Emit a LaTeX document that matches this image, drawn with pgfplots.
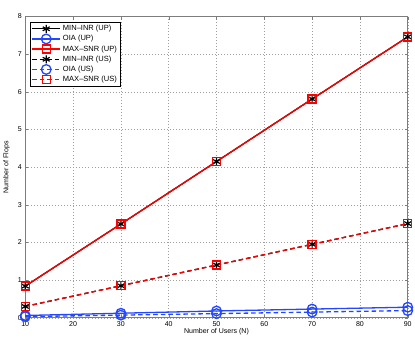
\documentclass[border=0pt]{standalone}
\usepackage{pgfplots}
\pgfplotsset{compat=1.18}
\usepackage{fontspec}
\setmainfont{Liberation Sans}
\definecolor{mblue}{RGB}{35,70,255}
\definecolor{axgray}{RGB}{125,125,125}

\begin{document}
\begin{tikzpicture}
\begin{axis}[
    scale only axis,
    width=381pt,
    height=300pt,
    xmin=10, xmax=90,
    ymin=0, ymax=8000000,
    xtick={10,20,...,90},
    xticklabels={10,20,30,40,50,60,70,80,90},
    ytick={0,1000000,2000000,3000000,4000000,5000000,6000000,7000000,8000000},
    yticklabels={0,1,2,3,4,5,6,7,8},
    scaled y ticks=false,
    tick label style={font=\fontsize{7}{8}\selectfont},
    label style={font=\fontsize{7}{8}\selectfont},
    xlabel={Number of Users (N)},
    ylabel={Number of Flops},
    xlabel style={yshift=5pt},
    ylabel style={yshift=1pt},
    grid=major,
    major grid style={dash pattern=on 0.6pt off 2.4pt, gray!75, line width=0.4pt},
    axis line style={axgray, line width=0.6pt},
    tick style={axgray},
    tick align=inside,
    major tick length=3pt,
    legend style={at={(0.013,0.982)},anchor=north west, font=\fontsize{7.5}{8.5}\selectfont,
        draw=black, line width=0.6pt, inner sep=1pt, row sep=-0.8pt},
    legend cell align=left,
    legend image code/.code={\draw[mark repeat=2,mark phase=2,#1] plot coordinates {(0pt,0pt) (14pt,0pt) (28pt,0pt)};},
]
\addplot[black, line width=1.3pt, mark=asterisk, mark size=4pt, mark options={solid,line width=1.2pt}] coordinates {
    (10,840000) (30,2490000) (50,4150000) (70,5810000) (90,7460000)};
\addlegendentry{MIN--INR (UP)}
\addplot[mblue, line width=1.3pt, mark=o, mark size=4.8pt, mark options={solid}] coordinates {
    (10,60000) (30,120000) (50,180000) (70,230000) (90,280000)};
\addlegendentry{OIA (UP)}
\addplot[red, line width=1.3pt, mark=square, mark size=4pt, mark options={solid}] coordinates {
    (10,840000) (30,2490000) (50,4150000) (70,5810000) (90,7460000)};
\addlegendentry{MAX--SNR (UP)}
\addplot[black, dash pattern=on 4.5pt off 3pt, line width=1.3pt, mark=asterisk, mark size=4pt, mark options={solid,line width=1.2pt}] coordinates {
    (10,300000) (30,850000) (50,1400000) (70,1950000) (90,2500000)};
\addlegendentry{MIN--INR (US)}
\addplot[mblue, dash pattern=on 4.5pt off 3pt, line width=1.3pt, mark=o, mark size=4.8pt, mark options={solid}] coordinates {
    (10,30000) (30,70000) (50,110000) (70,150000) (90,190000)};
\addlegendentry{OIA (US)}
\addplot[red, dash pattern=on 4.5pt off 3pt, line width=1.3pt, mark=square, mark size=4pt, mark options={solid}] coordinates {
    (10,300000) (30,850000) (50,1400000) (70,1950000) (90,2500000)};
\addlegendentry{MAX--SNR (US)}
\node[anchor=base west, inner sep=0pt, xshift=-9pt, yshift=5.5pt, font=\fontsize{7}{8}\selectfont] at (rel axis cs:0,1) {x\,10\textsuperscript{6}};
\end{axis}
\path ([yshift=16.5pt]current axis.north west);
\end{tikzpicture}
\end{document}
